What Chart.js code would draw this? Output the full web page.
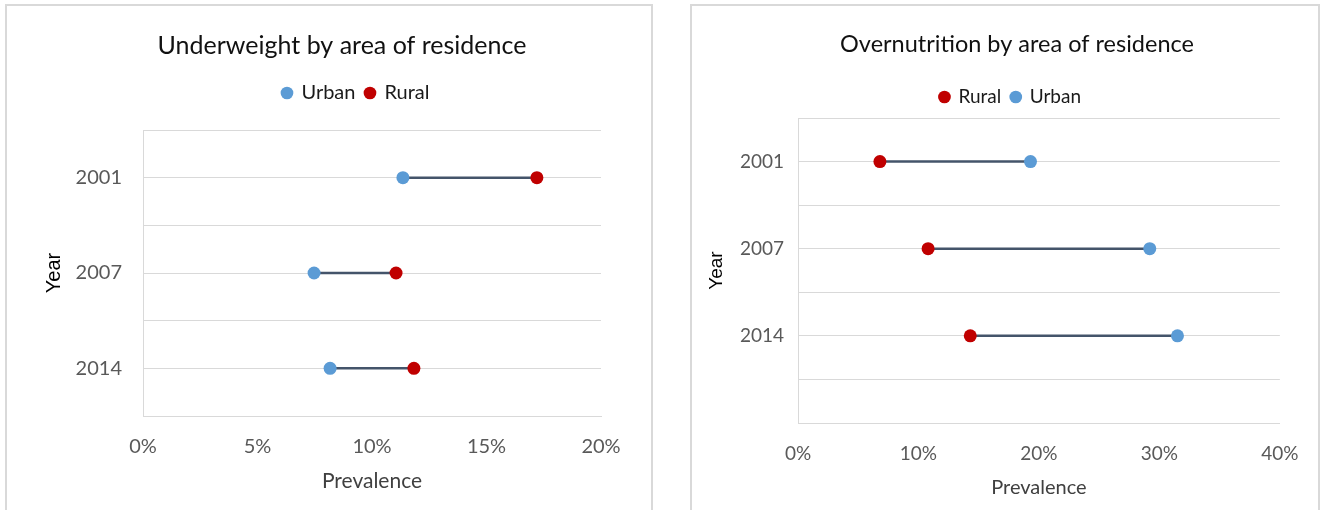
<!DOCTYPE html>
<html>
<head>
<meta charset="utf-8">
<script src="https://cdn.jsdelivr.net/npm/chart.js@4.4.1/dist/chart.umd.min.js"></script>
<style>
  html, body { margin: 0; padding: 0; background: #ffffff; width: 1320px; height: 510px; overflow: hidden; }
  .frame { position: absolute; top: 4px; height: 520px; box-sizing: border-box; border: 2px solid #d9d9d9; pointer-events: none; }
  .wrap { position: absolute; top: 5px; }
  canvas { display: block; }
</style>
</head>
<body>
<div class="frame" style="left:5px;width:648px"></div>
<div class="frame" style="left:690px;width:630px"></div>
<div class="wrap" style="left:6px;width:645px;height:505px"><canvas id="c1" width="645" height="505"></canvas></div>
<div class="wrap" style="left:691px;width:627px;height:505px"><canvas id="c2" width="627" height="505"></canvas></div>
<script>
// ---------- data ----------
const years = ['2001', '2007', '2014'];

// Underweight by area of residence (%)
const underweightUrban = [11.35, 7.47, 8.17];
const underweightRural = [17.2, 11.05, 11.83];
const underweightXTicks = [0, 5, 10, 15, 20];

// Overnutrition by area of residence (%)
const overnutritionRural = [6.8, 10.8, 14.3];
const overnutritionUrban = [19.3, 29.2, 31.5];
const overnutritionXTicks = [0, 10, 20, 30, 40];

// ---------- styling ----------
const URBAN = '#5b9bd5';
const RURAL = '#c00000';
const CONNECT = '#44546a';
const GRID = '#d9d9d9';
const TICK = '#595959';
const FONT = 'Lato, "Open Sans", sans-serif';

// category row position on the y scale (rows at 1, 3, 5)
const rowPos = i => 2 * i + 1;

function shiftPlugin(cfg) {
  return {
    id: 'shift',
    beforeInit(chart) {
      const lg = chart.legend, tb = chart.titleBlock;
      if (lg) {
        const fit = lg.fit;
        lg.fit = function () { fit.apply(this, arguments); this.height += cfg.legendExtra; };
        const draw = lg.draw;
        lg.draw = function () { const c = this.ctx; c.save(); c.translate(cfg.legendDx, 0); draw.apply(this, arguments); c.restore(); };
      }
      if (tb) {
        const draw = tb.draw;
        tb.draw = function () { const c = this.ctx; c.save(); c.translate(cfg.titleDx, 0); draw.apply(this, arguments); c.restore(); };
      }
    }
  };
}

function makeChart(id, opt) {
  const datasets = [];
  // connectors (drawn underneath)
  years.forEach((y, i) => {
    datasets.push({
      label: '_c' + i,
      data: [{ x: opt.series[0].data[i], y: rowPos(i) }, { x: opt.series[1].data[i], y: rowPos(i) }],
      showLine: true,
      borderColor: CONNECT,
      borderWidth: 2.5,
      pointRadius: 0,
      pointHoverRadius: 0,
      order: 3
    });
  });
  // dots (legend order = series order)
  opt.series.forEach(s => {
    datasets.push({
      label: s.label,
      data: years.map((y, i) => ({ x: s.data[i], y: rowPos(i) })),
      backgroundColor: s.color,
      borderColor: s.color,
      pointRadius: 6.5,
      pointBorderWidth: 0,
      pointStyle: 'circle',
      showLine: false,
      order: 1
    });
  });

  const f = opt.fonts;
  const yMax = opt.rows;
  return new Chart(document.getElementById(id), {
    type: 'scatter',
    data: { datasets },
    plugins: [shiftPlugin(opt.shift)],
    options: {
      responsive: false,
      animation: false,
      events: [],
      layout: { padding: { left: 0, right: opt.padRight, top: 0, bottom: 0 } },
      plugins: {
        tooltip: { enabled: false },
        title: {
          display: true,
          text: opt.title,
          color: '#111111',
          font: { family: FONT, size: f.title, weight: 'normal' },
          padding: { top: opt.titleTop, bottom: opt.titleBottom }
        },
        legend: {
          display: true,
          position: 'top',
          labels: {
            usePointStyle: true,
            boxWidth: 9,
            boxHeight: 9,
            padding: 10,
            color: '#1a1a1a',
            font: { family: FONT, size: f.legend },
            filter: item => !item.text.startsWith('_')
          }
        }
      },
      scales: {
        x: {
          type: 'linear',
          position: 'bottom',
          min: opt.xTicks[0],
          max: opt.xTicks[opt.xTicks.length - 1],
          afterBuildTicks: s => { s.ticks = opt.xTicks.map(v => ({ value: v })); },
          ticks: {
            color: TICK,
            font: { family: FONT, size: f.tick },
            padding: opt.xTickPad,
            maxRotation: 0,
            callback: v => v + '%'
          },
          grid: { display: false, drawTicks: false },
          border: { display: true, color: GRID, width: 1 },
          title: {
            display: true,
            text: 'Prevalence',
            color: '#404040',
            font: { family: FONT, size: f.axis },
            padding: { top: 0, bottom: opt.xTitleBottom }
          },
          afterFit: s => { s.height = opt.xHeight; }
        },
        y: {
          type: 'linear',
          reverse: true,
          min: 0,
          max: yMax,
          afterBuildTicks: s => {
            const t = [];
            for (let v = 0; v <= yMax; v++) t.push({ value: v });
            s.ticks = t;
          },
          ticks: {
            color: TICK,
            font: { family: FONT, size: f.tick },
            padding: opt.yTickPad,
            autoSkip: false,
            callback: v => {
              const i = years.findIndex((y, k) => rowPos(k) === v);
              return i >= 0 ? years[i] : '';
            }
          },
          grid: { color: GRID, lineWidth: 1, drawTicks: false },
          border: { display: true, color: GRID, width: 1 },
          title: {
            display: true,
            text: 'Year',
            color: '#000000',
            font: { family: '"Liberation Sans", Arial, sans-serif', size: f.year },
            padding: { top: opt.yTitleTop, bottom: 0 }
          },
          afterFit: s => { s.width = opt.yWidth; }
        }
      }
    }
  });
}

makeChart('c1', {
  title: 'Underweight by area of residence',
  series: [
    { label: 'Urban', data: underweightUrban, color: URBAN },
    { label: 'Rural', data: underweightRural, color: RURAL }
  ],
  xTicks: underweightXTicks,
  rows: 6,
  fonts: { title: 25, legend: 20, tick: 20, axis: 21, year: 20 },
  padRight: 50,
  titleTop: 26,
  titleBottom: 12,
  shift: { titleDx: 38.5, legendDx: 52.5, legendExtra: 17 },
  xTickPad: 19,
  xTitleBottom: 16.4,
  xHeight: 94,
  yTickPad: 21,
  yTitleTop: 36,
  yWidth: 137
});

makeChart('c2', {
  title: 'Overnutrition by area of residence',
  series: [
    { label: 'Rural', data: overnutritionRural, color: RURAL },
    { label: 'Urban', data: overnutritionUrban, color: URBAN }
  ],
  xTicks: overnutritionXTicks,
  rows: 7,
  fonts: { title: 23.5, legend: 19, tick: 19, axis: 20, year: 19 },
  padRight: 37,
  titleTop: 24.9,
  titleBottom: 19.4,
  shift: { titleDx: 31, legendDx: 24.5, legendExtra: 1.5 },
  xTickPad: 19.5,
  xTitleBottom: 10,
  xHeight: 87,
  yTickPad: 14,
  yTitleTop: 14.6,
  yWidth: 107
});
</script>
</body>
</html>
